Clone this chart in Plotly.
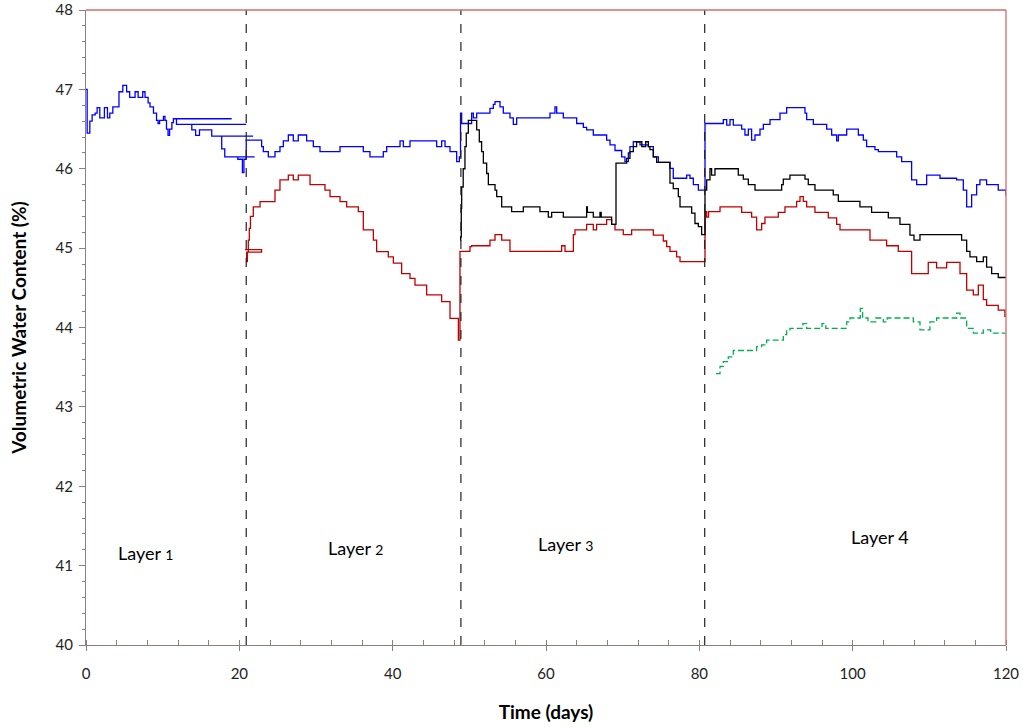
import plotly.graph_objects as go

# ---------------- data ----------------
blue_days = [0, 0.15, 0.5, 0.8, 1.2, 1.45, 1.8, 2.4, 2.8, 3.1, 3.5, 4.3, 4.8, 5.3, 5.7, 6.4, 6.8, 7.4, 7.7,
             8.1, 8.35, 8.8, 9.2, 9.4, 9.6, 10.1, 10.3, 10.5, 10.7, 10.9, 11.2, 11.4, 19.0, 11.8, 20.9,
             13.8, 14.3, 14.8, 16.4, 21.8, 17.7, 18.1, 22.0, 19.8, 20.4, 20.6,
             20.9, 22.91, 23.13, 23.78, 24.65, 25.30, 25.74, 26.39, 27.04, 27.69, 28.78, 29.65, 30.52,
             33.13, 36.17, 37.04, 38.78, 39.22, 40.96, 41.39, 42.26, 45.74, 46.39, 46.83, 47.48, 48.35, 48.7,
             48.85, 49.0, 50.30, 50.52, 50.96, 52.69, 53.13, 53.35, 54.0, 54.43, 55.30, 55.74, 56.17, 60.52,
             61.17, 61.39, 62.26, 64.0, 64.87, 65.3, 66.17, 67.91, 68.35, 69.0, 69.87, 70.3, 70.74, 70.95,
             71.39, 72.26, 73.35, 74.0, 74.65, 76.17, 76.6, 78.35, 78.78, 79.22, 79.87,
             80.74, 83.13, 83.57, 84.0, 84.43, 85.52, 85.95, 86.39, 86.82, 87.26, 87.91, 88.35, 89.22, 90.52,
             91.39, 93.78, 94.0, 94.87, 96.61, 97.26, 97.91, 98.13, 99.22, 100.74, 101.39, 101.82, 102.91,
             103.35, 105.74, 106.39, 107.69, 108.35, 109.65, 111.39, 113.56, 114.43, 114.87, 115.52, 116.17,
             116.6, 117.47, 118.99, 120.0]
blue_vwc = [47.0, 46.45, 46.6, 46.68, 46.7, 46.77, 46.64, 46.77, 46.64, 46.70, 46.78, 46.97, 47.05, 46.97, 46.90,
            46.97, 46.90, 46.97, 46.90, 46.83, 46.78, 46.70, 46.61, 46.57, 46.61, 46.66, 46.61, 46.50, 46.42,
            46.50, 46.58, 46.63, 46.63, 46.56, 46.56,
            46.49, 46.42, 46.49, 46.41, 46.41, 46.25, 46.15, 46.15, 46.12, 45.95, 46.12,
            46.36, 46.28, 46.215, 46.15, 46.215, 46.28, 46.35, 46.425, 46.35, 46.425, 46.35, 46.28, 46.215,
            46.28, 46.215, 46.15, 46.215, 46.28, 46.35, 46.28, 46.35, 46.28, 46.35, 46.28, 46.215, 46.09, 46.15,
            46.70, 46.57, 46.70, 46.64, 46.70, 46.76, 46.81, 46.845, 46.78, 46.70, 46.64, 46.56, 46.64, 46.70,
            46.78, 46.70, 46.64, 46.57, 46.52, 46.49, 46.425, 46.36, 46.30, 46.23, 46.15, 46.09, 46.20, 46.28,
            46.34, 46.30, 46.28, 46.15, 46.08, 46.005, 45.88, 45.92, 45.88, 45.80, 45.73,
            46.57, 46.62, 46.55, 46.62, 46.55, 46.50, 46.425, 46.50, 46.36, 46.425, 46.50, 46.56, 46.62, 46.70,
            46.77, 46.70, 46.62, 46.56, 46.50, 46.425, 46.35, 46.425, 46.50, 46.425, 46.36, 46.28, 46.24,
            46.215, 46.15, 46.09, 45.86, 45.80, 45.92, 45.88, 45.86, 45.73, 45.52, 45.67, 45.80,
            45.86, 45.80, 45.73, 45.66]

red_days = [20.74, 22.9, 20.96, 21.05, 21.17, 21.3, 21.45, 21.82, 22.70, 23.57, 24.65, 25.30, 26.39, 27.04,
            27.69, 29.22, 31.17, 31.83, 33.13, 34.0, 35.52, 36.17, 37.48, 37.91, 39.43, 40.09, 41.17, 42.26,
            42.91, 44.43, 46.39, 47.48, 48.57,
            48.78, 50.09, 50.30, 52.69, 53.35, 54.22, 55.30, 62.04, 62.48, 63.57, 63.78, 65.3, 66.17, 66.6,
            67.91, 68.56, 69.0, 70.08, 71.17, 74.0, 75.3, 75.74, 76.17, 77.04, 77.48,
            80.74, 80.96, 81.2, 82.04, 82.70, 85.52, 86.82, 87.47, 88.13, 88.56, 90.30, 91.17, 92.69,
            93.13, 93.56, 94.0, 95.08, 96.82, 97.91, 98.35, 102.26, 104.43, 105.95, 107.69, 109.86,
            110.95, 112.26, 114.0, 114.87, 115.74, 116.39, 117.04, 117.47, 118.99, 119.86, 120.0]
red_vwc = [44.98, 44.95, 44.83, 44.95, 45.10, 45.25, 45.40, 45.52, 45.585, 45.585, 45.73, 45.86, 45.92, 45.86,
           45.92, 45.80, 45.73, 45.65, 45.585, 45.52, 45.46, 45.23, 45.10, 44.955, 44.89, 44.81, 44.68, 44.62,
           44.535, 44.41, 44.325, 44.115, 43.84,
           44.96, 45.02, 45.03, 45.10, 45.17, 45.10, 44.96, 45.03, 44.96, 45.17, 45.23, 45.30, 45.23, 45.30,
           45.36, 45.30, 45.23, 45.17, 45.23, 45.165, 45.09, 45.02, 44.96, 44.89, 44.83,
           45.46, 45.39, 45.46, 45.46, 45.52, 45.45, 45.39, 45.23, 45.31, 45.39, 45.45, 45.52, 45.59,
           45.65, 45.59, 45.52, 45.45, 45.38, 45.30, 45.23, 45.10, 45.03, 44.96, 44.68, 44.82,
           44.75, 44.82, 44.68, 44.47, 44.41, 44.535, 44.35, 44.28, 44.22, 44.14, 44.14]

black_days = [48.78, 48.87, 48.95, 49.0, 49.2, 49.43, 49.6, 49.87, 50.74, 50.96, 51.3, 51.6, 51.83, 52.26,
              52.48, 53.35, 53.57, 54.22, 55.52, 57.04, 59.21, 60.3, 60.74, 62.26, 65.3, 65.4, 66.17, 67.04,
              67.2, 68.56, 69.13, 70.30, 70.52, 70.95, 71.39, 71.82, 72.5, 73.0, 73.35, 73.56, 74.0, 74.43,
              76.17, 76.6, 77.26, 77.48, 79.0, 79.43, 79.87, 80.30,
              80.74, 80.96, 81.39, 81.6, 82.04, 85.08, 85.74, 86.39, 87.26, 90.74, 90.95, 91.82, 93.78,
              94.21, 95.08, 97.47, 98.13, 100.95, 102.47, 104.65, 106.17, 107.47, 108.0, 108.78, 109.65,
              114.21, 114.87, 115.3, 116.17, 117.04, 117.47, 118.13, 118.99, 120.0]
black_vwc = [45.10, 45.14, 45.50, 45.77, 46.00, 46.28, 46.45, 46.61, 46.61, 46.49, 46.34, 46.215, 46.07, 45.94,
             45.80, 45.73, 45.65, 45.52, 45.46, 45.52, 45.46, 45.39, 45.45, 45.39, 45.52, 45.45, 45.39, 45.45,
             45.39, 45.30, 46.07, 46.07, 46.13, 46.215, 46.28, 46.34, 46.28, 46.34, 46.28, 46.24, 46.15, 46.08,
             45.82, 45.75, 45.65, 45.52, 45.44, 45.31, 45.27, 45.17,
             45.73, 45.86, 46.0, 45.92, 46.0, 45.92, 45.87, 45.80, 45.73, 45.80, 45.87, 45.92, 45.87,
             45.80, 45.73, 45.67, 45.59, 45.52, 45.45, 45.38, 45.30, 45.165, 45.10, 45.17, 45.17,
             45.10, 44.96, 44.89, 44.83, 44.89, 44.76, 44.68, 44.63, 44.63]

green_days = [82.17, 82.7, 83.13, 83.78, 84.43, 87.47, 88.13, 88.78, 90.96, 91.39, 91.82, 93.5, 94.0, 96.0,
              96.5, 99.22, 99.65, 100.08, 101.0, 101.3, 102.0, 103.0, 104.0, 104.5, 107.91, 108.78, 110.08,
              110.95, 113.56, 114.0, 114.87, 115.74, 117.04, 118.0, 119.87]
green_vwc = [43.42, 43.51, 43.57, 43.63, 43.71, 43.76, 43.78, 43.84, 43.91, 43.97, 43.99, 44.05, 43.99, 44.05,
             43.99, 44.07, 44.12, 44.12, 44.24, 44.12, 44.07, 44.12, 44.07, 44.12, 44.07, 43.97, 44.07,
             44.12, 44.18, 44.12, 43.99, 43.93, 43.97, 43.93, 43.92]

layer_bounds = [20.9, 48.9, 80.7]
layer_labels = ["Layer <span style='font-size:14px'>1</span>", "Layer <span style='font-size:14px'>2</span>",
                "Layer <span style='font-size:14px'>3</span>", "Layer 4"]
label_days = [7.7, 35.1, 62.6, 103.6]
label_vwc = [41.16, 41.22, 41.27, 41.36]

x_ticks = [0, 20, 40, 60, 80, 100, 120]
y_ticks = [40, 41, 42, 43, 44, 45, 46, 47, 48]

# ---------------- figure ----------------
FONT = "Lato, 'Liberation Sans', sans-serif"
fig = go.Figure()

series = [
    (blue_days, blue_vwc, "#0000FF", "solid"),
    (red_days, red_vwc, "#C00000", "solid"),
    (black_days, black_vwc, "#000000", "solid"),
    (green_days, green_vwc, "#00B050", "6px,3px"),
]
for xs, ys, col, dash in series:
    fig.add_trace(go.Scatter(x=xs, y=ys, mode="lines",
                             line=dict(color=col, width=1.3, shape="hv", dash=dash),
                             showlegend=False, hoverinfo="skip"))

shapes = []
for b in layer_bounds:
    shapes.append(dict(type="line", xref="x", yref="paper", x0=b, x1=b, y0=0, y1=1,
                       line=dict(color="#222222", width=1.2, dash="dash"), layer="above"))
# red frame on top and right
shapes.append(dict(type="line", xref="paper", yref="paper", x0=0, x1=1, y0=1, y1=1,
                   line=dict(color="#D46A6A", width=1.3)))
shapes.append(dict(type="line", xref="paper", yref="paper", x0=1, x1=1, y0=0, y1=1,
                   line=dict(color="#D46A6A", width=1.3)))

annotations = [dict(x=d, y=v, xref="x", yref="y", text=t, showarrow=False,
                    font=dict(family=FONT, size=18, color="#000000"))
               for d, v, t in zip(label_days, label_vwc, layer_labels)]

axis_col = "#8C7F7F"
fig.update_layout(
    width=1023, height=727,
    margin=dict(l=86, r=17, t=10, b=82, autoexpand=False),
    paper_bgcolor="white", plot_bgcolor="white",
    font=dict(family=FONT, size=15, color="#222222"),
    shapes=shapes, annotations=annotations,
    xaxis=dict(range=[0, 120], tickvals=x_ticks, ticks="outside", ticklen=5, tickcolor=axis_col,
               automargin=False, ticklabelstandoff=10,
               showline=True, linecolor=axis_col, linewidth=1.3, showgrid=False, zeroline=False,
               minor=dict(dtick=4, ticks="inside", ticklen=5, tickcolor=axis_col, showgrid=False),
               title=dict(text="<b>Time (days)</b>", font=dict(family=FONT, size=19, color="#000000"),
                          standoff=24),
               tickfont=dict(family=FONT, size=15, color="#222222")),
    yaxis=dict(range=[40, 48], tickvals=y_ticks, ticks="outside", ticklen=6, tickcolor=axis_col,
               automargin=False, ticklabelstandoff=3,
               showline=True, linecolor=axis_col, linewidth=1.3, showgrid=False, zeroline=False,
               minor=dict(dtick=0.2, ticks="outside", ticklen=3, tickcolor=axis_col, showgrid=False),
               title=dict(text="<b>Volumetric Water Content (%)</b>",
                          font=dict(family=FONT, size=19, color="#000000"), standoff=23),
               tickfont=dict(family=FONT, size=15, color="#222222")),
)

fig.write_html("out.html")
